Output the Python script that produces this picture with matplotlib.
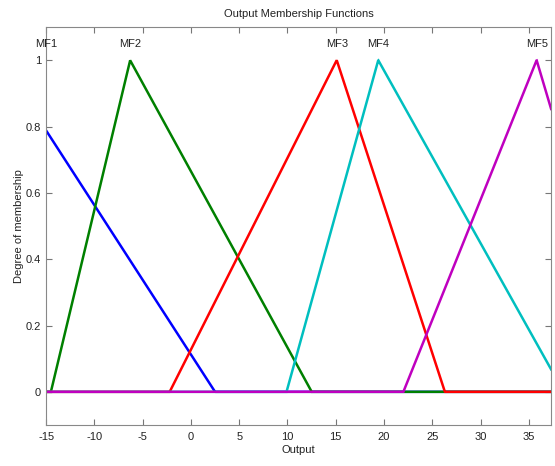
import numpy as np
import matplotlib
matplotlib.use("Agg")
import matplotlib.pyplot as plt

# triangular membership functions [a, b, c]
mf_names = ["MF1", "MF2", "MF3", "MF4", "MF5"]
mf_params = [
    [-37.3, -19.7, 2.5],
    [-14.5, -6.3, 12.5],
    [-2.2, 15.1, 26.3],
    [9.9, 19.4, 38.6],
    [22.0, 35.8, 46.0],
]
mf_colors = ["#0000ff", "#008000", "#ff0000", "#00bfbf", "#bf00bf"]

x_min, x_max = -15, 37.3


def trimf(x, a, b, c):
    return np.maximum(np.minimum((x - a) / (b - a), (c - x) / (c - b)), 0)


x = np.linspace(x_min, x_max, 2001)

plt.rcParams.update({'font.size': 8, 'axes.unicode_minus': False})
fig = plt.figure(figsize=(5.55, 4.66), dpi=100)
ax = fig.add_axes([0.083, 0.088, 0.91, 0.854])

for name, (a, b, c), col in zip(mf_names, mf_params, mf_colors):
    ax.plot(x, trimf(x, a, b, c), color=col, lw=1.8, solid_joinstyle='miter')
    ax.text(max(b, x_min), 1.05, name, ha='center', va='center',
            fontsize=8, family='Liberation Sans', color='#222222')

ax.set_xlim(x_min, x_max)
ax.set_ylim(-0.1, 1.1)
ax.set_xticks(np.arange(-15, 36, 5))
ax.set_yticks([0, 0.2, 0.4, 0.6, 0.8, 1])
ax.set_yticklabels(["0", "0.2", "0.4", "0.6", "0.8", "1"])
ax.tick_params(direction='in', top=True, right=True, length=4,
               color='#777777', labelsize=8, labelcolor='#222222')
ax.tick_params(axis='x', pad=5)
for lab in ax.get_xticklabels() + ax.get_yticklabels():
    lab.set_family('Liberation Sans')
for s in ax.spines.values():
    s.set_color('#888888')

ax.set_title("Output Membership Functions", fontsize=8, family='Liberation Sans',
             color='#222222', pad=7)
ax.set_xlabel("Output", fontsize=8, family='Liberation Sans', color='#222222', labelpad=2)
ax.set_ylabel("Degree of membership", fontsize=8, family='Liberation Sans',
              color='#222222', labelpad=1)

fig.savefig("out.png", dpi=100)
